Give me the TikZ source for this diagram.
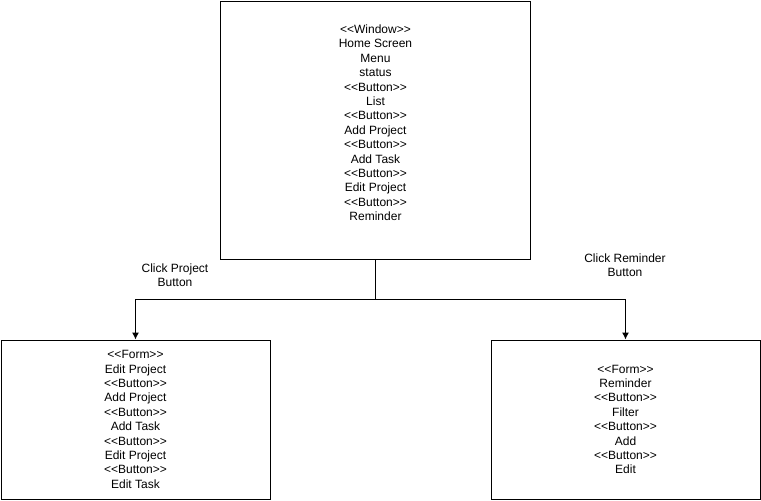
\documentclass[tikz,border=0pt]{standalone}
\usepackage{fontspec}
\setmainfont{Liberation Sans}
\usepackage{tikz}
\usetikzlibrary{arrows.meta,positioning}

\newcommand{\stereo}[1]{\textless\kern0pt\textless#1\textgreater\kern0pt\textgreater}

\begin{document}
\begin{tikzpicture}[x=1pt,y=-1pt]
			\tikzstyle{Screen} 	= [draw, solid, line width=1pt, fill=white, align=center, inner sep=0pt]
			\tikzstyle{Window}	= [minimum width=310pt, minimum height=258pt]
			\tikzstyle{Form}	= [minimum width=269pt, minimum height=159pt]
			\tikzstyle{Label}	= [align=center, inner sep=0pt]
			\tikzstyle{Flow}	= [line width=1pt, -{Latex[length=7pt,width=7pt]}]
			\tikzset{every node/.style={font=\fontsize{12}{14.4}\selectfont}}
			
			\useasboundingbox (0,0) rectangle (761,501);
			
			\node (home) at (375.5,130) [Screen][Window] {\stereo{Window}\\Home Screen\\Menu\\status\\\stereo{Button}\\List\\\stereo{Button}\\Add Project\\\stereo{Button}\\Add Task\\\stereo{Button}\\Edit Project\\\stereo{Button}\\Reminder\\\mbox{}};
			
			\node (proj) at (135.5,419.5) [Screen][Form] {\stereo{Form}\\Edit Project\\\stereo{Button}\\Add Project\\\stereo{Button}\\Add Task\\\stereo{Button}\\Edit Project\\\stereo{Button}\\Edit Task};
			\node (rem) at (625.5,419.5) [Screen][Form] {\stereo{Form}\\Reminder\\\stereo{Button}\\Filter\\\stereo{Button}\\Add\\\stereo{Button}\\Edit};
			
			\node (clickproj) at (175,275.5) [Label] {Click Project\\Button};
			\node (clickrem) at (625,265) [Label] {Click Reminder\\Button};
			
			\draw [Flow] (home.south) -- ++(0,40) -| (proj.north);
			\draw [Flow] (home.south) -- ++(0,40) -| (rem.north);
		\end{tikzpicture}
\end{document}
